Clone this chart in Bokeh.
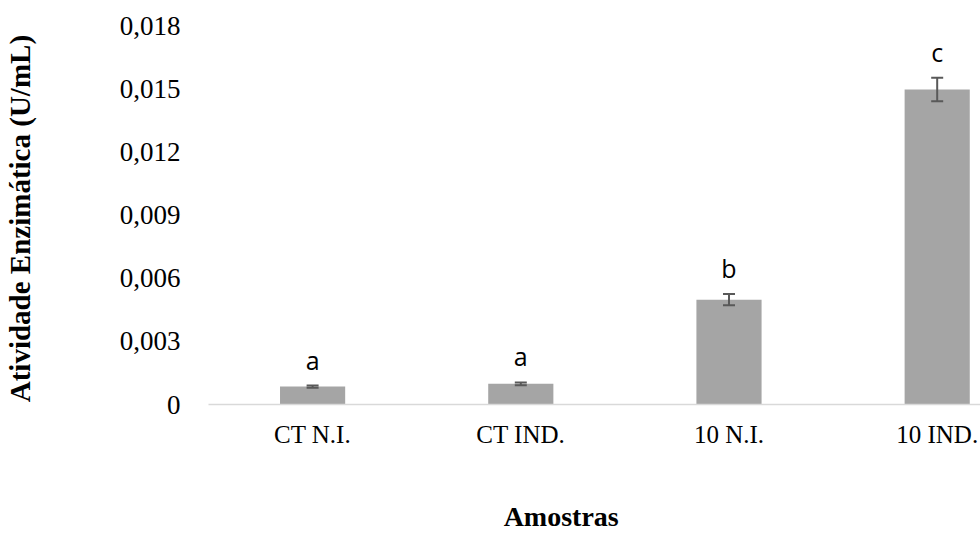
from bokeh.plotting import figure
from bokeh.models import Range1d, FixedTicker, Whisker, TeeHead, ColumnDataSource, LinearAxis
from bokeh.core.properties import value
from bokeh.embed import file_html
from bokeh.resources import INLINE

categories = ["CT N.I.", "CT IND.", "10 N.I.", "10 IND."]
means = [0.00085, 0.00098, 0.00498, 0.01496]
errors = [0.00005, 0.00007, 0.00027, 0.00056]
letters = ["a", "a", "b", "c"]
y_ticks = [0, 0.003, 0.006, 0.009, 0.012, 0.015, 0.018]
y_tick_labels = ["0", "0,003", "0,006", "0,009", "0,012", "0,015", "0,018"]
x_title = "Amostras"
x_title_pos = 1.194

xs = list(range(len(categories)))
src = ColumnDataSource(dict(
    x=xs, top=means,
    upper=[m + e for m, e in zip(means, errors)],
    lower=[m - e for m, e in zip(means, errors)],
    letter=letters,
))

p = figure(width=980, height=534, output_backend="svg", toolbar_location=None,
           x_range=Range1d(-0.5, 3.208), y_range=Range1d(0, 0.018),
           min_border_left=205, min_border_top=25, min_border_right=0, min_border_bottom=129)
p.outline_line_color = None
p.xgrid.visible = False
p.ygrid.visible = False

p.vbar(x="x", top="top", width=0.313, bottom=0, source=src, fill_color="#a5a5a5", line_color=None)

w = Whisker(source=src, base="x", upper="upper", lower="lower", line_color="#595959", line_width=2,
            upper_head=TeeHead(size=12, line_color="#595959", line_width=2),
            lower_head=TeeHead(size=12, line_color="#595959", line_width=2),
            level="overlay")
p.add_layout(w)

p.text(x="x", y="upper", text="letter", source=src, text_font=value("Open Sans"),
       text_font_size="25px", text_align="center", text_baseline="alphabetic",
       y_offset=-26, text_color="#000000")

# x axis
p.xaxis.ticker = FixedTicker(ticks=xs)
p.xaxis.major_label_overrides = {i: c for i, c in zip(xs, categories)}
p.xaxis.major_tick_line_color = None
p.xaxis.minor_tick_line_color = None
p.xaxis.axis_line_color = "#d9d9d9"
p.xaxis.axis_line_width = 1.5
p.xaxis.major_label_text_font = "Liberation Serif"
p.xaxis.major_label_text_font_size = "25px"
p.xaxis.major_label_text_color = "#000000"
p.xaxis.major_label_standoff = 10

# x axis title, placed as a label of a second axis so it sits where the original has it
xt = LinearAxis(ticker=FixedTicker(ticks=[x_title_pos]),
                major_label_overrides={x_title_pos: x_title},
                axis_line_color=None, major_tick_line_color=None, minor_tick_line_color=None,
                major_label_standoff=44, major_label_text_font="Liberation Serif",
                major_label_text_font_size="28px", major_label_text_font_style="bold",
                major_label_text_color="#000000")
p.add_layout(xt, "below")

# y axis
p.yaxis.ticker = FixedTicker(ticks=y_ticks)
p.yaxis.major_label_overrides = {t: l for t, l in zip(y_ticks, y_tick_labels)}
p.yaxis.axis_line_color = None
p.yaxis.major_tick_line_color = None
p.yaxis.minor_tick_line_color = None
p.yaxis.major_label_text_font = "Liberation Serif"
p.yaxis.major_label_text_font_size = "27px"
p.yaxis.major_label_text_color = "#000000"
p.yaxis.major_label_standoff = 22
p.yaxis.axis_label = "Atividade Enzimática  (U/mL)"
p.yaxis.axis_label_text_font = "Liberation Serif"
p.yaxis.axis_label_text_font_style = "bold"
p.yaxis.axis_label_text_font_size = "29px"
p.yaxis.axis_label_text_color = "#000000"
p.yaxis.axis_label_standoff = 81

open("out.html", "w").write(file_html(p, INLINE))
